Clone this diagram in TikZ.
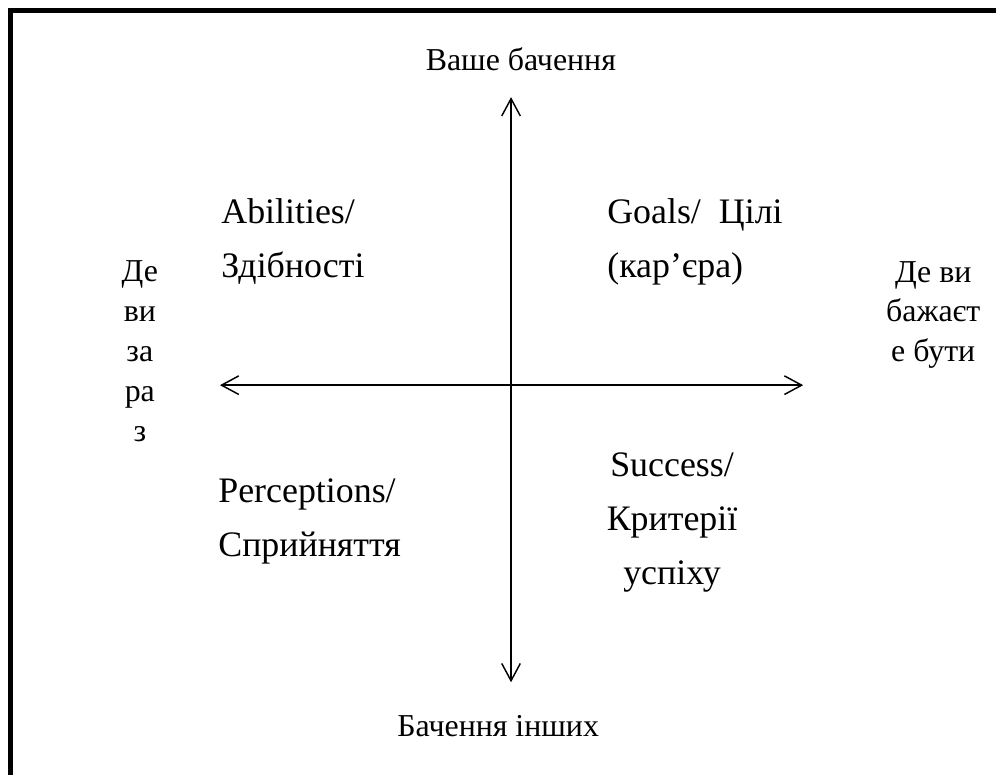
\documentclass[tikz,border=0pt]{standalone}
\usepackage{fontspec}
\setmainfont{Liberation Serif}
\usetikzlibrary{arrows.meta}

\tikzset{
   axis/.style={{Straight Barb[length=13pt, width=14pt, line width=1.1pt]}-{Straight Barb[length=13pt, width=14pt, line width=1.1pt]}, line width=1.1pt},
   quadlabel/.style={font=\fontsize{27}{40.5}\selectfont, inner sep=0pt},
   sidelabel/.style={font=\fontsize{24}{30}\selectfont, inner sep=0pt, align=center}
}

\begin{document}
\begin{tikzpicture}[scale=1.0]
            % Page area and frame (cut at right and bottom)
            \clip (-13.52,-10.29) rectangle (12.83,10.19);
            \fill[white] (-13.52,-10.29) rectangle (12.83,10.19);
            \draw[line width=3.75pt] (-13.24,-11) -- (-13.24,9.91) -- (14,9.91);
            % Axis ends
            \coordinate (top) at (0,7.62);
            \coordinate (bottom) at (0,-7.86);
            \coordinate (left) at (-7.70,0);
            \coordinate (right) at (7.73,0);
            % Axes
            \draw[axis] (bottom) -- (top);
            \draw[axis] (left) -- (right);
            % Axis labels
            \node[sidelabel] (own) at (0.26,8.62) {Ваше бачення};
            \node[sidelabel] (others) at (-0.34,-9.02) {Бачення інших};
            \node[sidelabel] (now) at (-9.82,0.90) {Де\\ви\\за\\ра\\з};
            \node[sidelabel] (wish) at (11.17,1.86) {Де ви\\бажаєт\\е бути};
            % Quadrants
            \node[quadlabel, anchor=west, align=left] (abilities) at (-7.67,3.80) {Abilities/\\Здібності};
            \node[quadlabel, anchor=west, align=left] (goals) at (2.54,3.80) {Goals/\ \ Цілі\\(кар’єра)};
            \node[quadlabel, anchor=west, align=left] (perceptions) at (-7.75,-3.60) {Perceptions/\\Сприйняття};
            \node[quadlabel, align=center] (success) at (4.26,-3.64) {Success/\\Критерії\\успіху};
         \end{tikzpicture}
\end{document}
